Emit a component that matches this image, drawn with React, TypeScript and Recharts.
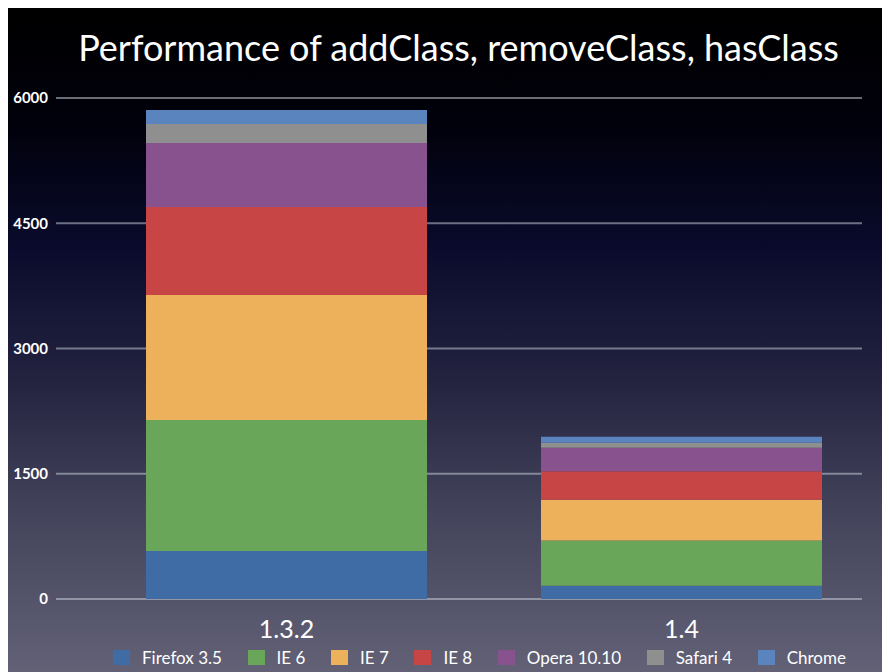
import React from "react";
import { BarChart, Bar, XAxis, YAxis, CartesianGrid } from "recharts";

const categories = ["1.3.2", "1.4"];
const seriesNames = ["Firefox 3.5", "IE 6", "IE 7", "IE 8", "Opera 10.10", "Safari 4", "Chrome"];
const firefox = [575, 160];
const ie6 = [1570, 540];
const ie7 = [1497, 490];
const ie8 = [1054, 340];
const opera = [766, 280];
const safari = [228, 60];
const chrome = [167, 72];
const yTicks = [0, 1500, 3000, 4500, 6000];

const seriesValues = [firefox, ie6, ie7, ie8, opera, safari, chrome];

const colors = [
  "#3f6ca4", // Firefox 3.5
  "#6aa65a", // IE 6
  "#edb05b", // IE 7
  "#c84546", // IE 8
  "#88528e", // Opera 10.10
  "#8f8f8f", // Safari 4
  "#5a84bd", // Chrome
];

const data = categories.map((name, i) => {
  const row: Record<string, string | number> = { name };
  seriesNames.forEach((s, j) => {
    row[s] = seriesValues[j][i];
  });
  return row;
});

const FONT = "Lato, 'Open Sans', sans-serif";

// x labels sit well below the axis
function XTick({ x, y, payload }: any) {
  return (
    <text x={x} y={y} dy={29} textAnchor="middle" dominantBaseline="central" fill="#ffffff" fontSize={25}>
      {payload.value}
    </text>
  );
}

// gridlines stop short of the right edge of the plot area
function GridLine(props: any) {
  return (
    <line
      key={props.key ?? `${props.y1}`}
      x1={props.x1}
      x2={props.x2 - 17}
      y1={props.y1}
      y2={props.y2}
      stroke="rgba(210,215,228,0.5)"
      strokeWidth={2}
    />
  );
}

export default function App() {
  return (
    <div
      style={{
        position: "relative",
        marginLeft: -2,
        width: 884,
        height: 664,
        fontFamily: FONT,
        background:
          "linear-gradient(to bottom, #000000 0%, #01010c 18%, #0a0b2c 36%, #232340 56%, #43435b 76%, #626176 100%)",
      }}
    >
      <div
        style={{
          position: "absolute",
          left: 0,
          top: 17,
          width: 905,
          textAlign: "center",
          color: "#ffffff",
          fontSize: 36,
          lineHeight: "44px",
        }}
      >
        Performance of addClass, removeClass, hasClass
      </div>

      <BarChart
        width={884}
        height={664}
        data={data}
        margin={{ top: 90, right: 11, bottom: 0, left: 0 }}
        barSize={281}
        style={{ position: "absolute", left: 0, top: 0 }}
      >
        <CartesianGrid vertical={false} horizontal={(p: any) => <GridLine {...p} />} />
        <XAxis
          dataKey="name"
          height={73}
          padding={{ left: 33, right: 0 }}
          axisLine={false}
          tickLine={false}
          tickSize={0}
          tickMargin={0}
          tick={<XTick />}
        />
        <YAxis
          width={50}
          domain={[0, 6000]}
          ticks={yTicks}
          axisLine={false}
          tickLine={false}
          tickSize={0}
          tickMargin={8}
          tick={{ fill: "#ffffff", fontSize: 15, fontWeight: 700 }}
        />
        {seriesNames.map((s, i) => (
          <Bar key={s} dataKey={s} stackId="perf" fill={colors[i]} isAnimationActive={false} />
        ))}
      </BarChart>

      <div
        style={{
          position: "absolute",
          left: 107,
          width: 733,
          top: 640,
          height: 18,
          display: "flex",
          justifyContent: "space-between",
          alignItems: "center",
          color: "#ffffff",
          fontSize: 17,
        }}
      >
        {seriesNames.map((s, i) => (
          <div key={s} style={{ display: "flex", alignItems: "center" }}>
            <span
              style={{
                display: "inline-block",
                width: 17,
                height: 15,
                background: colors[i],
                marginRight: 12,
              }}
            />
            <span>{s}</span>
          </div>
        ))}
      </div>
    </div>
  );
}
